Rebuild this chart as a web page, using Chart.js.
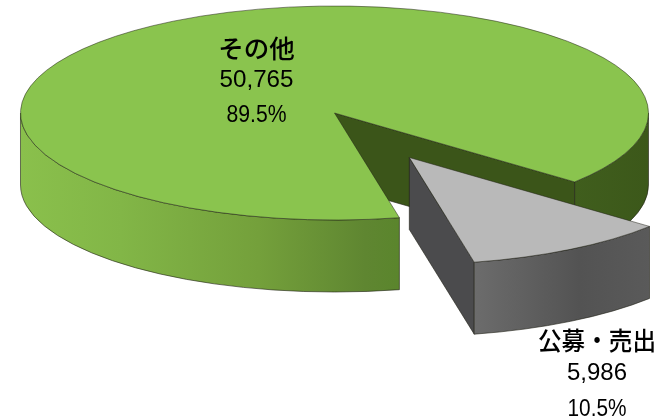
<!DOCTYPE html>
<html><head><meta charset="utf-8">
<style>html,body{margin:0;padding:0;background:#fff}canvas{display:block}</style>
<script src="https://cdn.jsdelivr.net/npm/chart.js@4"></script>
</head><body>
<canvas id="c" width="671" height="419"></canvas>
<script>
const categories = ['公募・売出', 'その他'];
const values = [5986, 50765];
const percents = ['10.5%', '89.5%'];
const valueLabels = ['5,986', '50,765'];
const topColors = ['#B9B9B9', '#8AC44E'];
const explode = [150.5, 0];

const RADIUS = 314, SQUASH = 0.3408, DEPTH = 72, CX = 334.5, CY = 113;
const EXPLODE_TILT = 1.1 * Math.PI / 180;

function rimGradient(ctx, i) {
  if (i === 0) {
    const g = ctx.createLinearGradient(474, 0, 650, 0);
    g.addColorStop(0, '#6c6c6c'); g.addColorStop(0.6, '#535353'); g.addColorStop(1, '#5a5a5a');
    return g;
  }
  const g = ctx.createLinearGradient(20, 0, 648, 0);
  g.addColorStop(0, '#8ac04c'); g.addColorStop(0.16, '#82b647');
  g.addColorStop(0.38, '#74a03b'); g.addColorStop(0.55, '#5f8631');
  g.addColorStop(0.61, '#5a852c'); g.addColorStop(0.88, '#405e1d'); g.addColorStop(1, '#3c581a');
  return g;
}
const faceColors = ['#4b4b4d', '#3b5519'];

const pie3d = {
  id: 'pie3d',
  beforeDatasetDraw(chart) {
    const ctx = chart.ctx, arcs = chart.getDatasetMeta(0).data;
    [1, 0].forEach(i => {
      const a = arcs[i];
      const p = a.getProps(['x', 'y', 'startAngle', 'endAngle', 'outerRadius']);
      const mid = (p.startAngle + p.endAngle) / 2 + EXPLODE_TILT;
      const ox = CX + Math.cos(mid) * explode[i];
      const oy = CY + Math.sin(mid) * explode[i] * SQUASH;
      const rx = p.outerRadius, ry = p.outerRadius * SQUASH;
      ctx.save();
      ctx.strokeStyle = 'rgba(30,30,20,0.75)';
      ctx.lineWidth = 0.8;
      // visible cut face at the end angle
      const ex = ox + Math.cos(p.endAngle) * rx, ey = oy + Math.sin(p.endAngle) * ry;
      ctx.beginPath();
      ctx.moveTo(ox, oy); ctx.lineTo(ex, ey);
      ctx.lineTo(ex, ey + DEPTH); ctx.lineTo(ox, oy + DEPTH);
      ctx.closePath();
      ctx.fillStyle = faceColors[i];
      ctx.fill(); ctx.stroke();
      // visible outer rim: the front half of the ellipse only
      const T = Math.PI * 2;
      for (let k = 0; k < 3; k++) {
        const s = Math.max(p.startAngle, k * T), e = Math.min(p.endAngle, k * T + Math.PI);
        if (e <= s) continue;
        ctx.beginPath();
        ctx.ellipse(ox, oy, rx, ry, 0, s, e);
        ctx.ellipse(ox, oy + DEPTH, rx, ry, 0, e, s, true);
        ctx.closePath();
        ctx.fillStyle = rimGradient(ctx, i);
        ctx.fill(); ctx.stroke();
      }
      ctx.restore();
      // the library's own arc, flattened
      ctx.save();
      ctx.translate(ox, oy);
      ctx.scale(1, SQUASH);
      ctx.translate(-p.x, -p.y);
      a.draw(ctx);
      ctx.restore();
    });
    return false;
  },
  afterDraw(chart) {
    const ctx = chart.ctx;
    const cjk = '500 25.5px "Noto Sans CJK JP"', num = '24.5px "Liberation Sans"';
    const blocks = [
      { i: 0, x: 597, ys: [340, 373, 409], w: [118, 60, 59] },
      { i: 1, x: 256.5, ys: [48, 80, 115], w: [77, 74, 60] }
    ];
    ctx.save();
    ctx.fillStyle = '#000';
    ctx.textAlign = 'center';
    ctx.textBaseline = 'middle';
    blocks.forEach(b => {
      ctx.font = cjk;
      ctx.fillText(categories[b.i], b.x, b.ys[0], b.w[0]);
      ctx.font = num;
      ctx.fillText(valueLabels[b.i], b.x, b.ys[1], b.w[1]);
      ctx.fillText(percents[b.i], b.x, b.ys[2], b.w[2]);
    });
    ctx.restore();
  }
};

new Chart(document.getElementById('c'), {
  type: 'pie',
  data: {
    labels: categories,
    datasets: [{
      data: values,
      backgroundColor: topColors,
      borderColor: 'rgba(30,30,20,0.75)',
      borderWidth: 1,
      clip: false
    }]
  },
  options: {
    responsive: false,
    animation: false,
    rotation: 130.1,
    radius: RADIUS,
    layout: { padding: 0 },
    plugins: { legend: { display: false }, tooltip: { enabled: false } }
  },
  plugins: [pie3d]
});
</script>
</body></html>
